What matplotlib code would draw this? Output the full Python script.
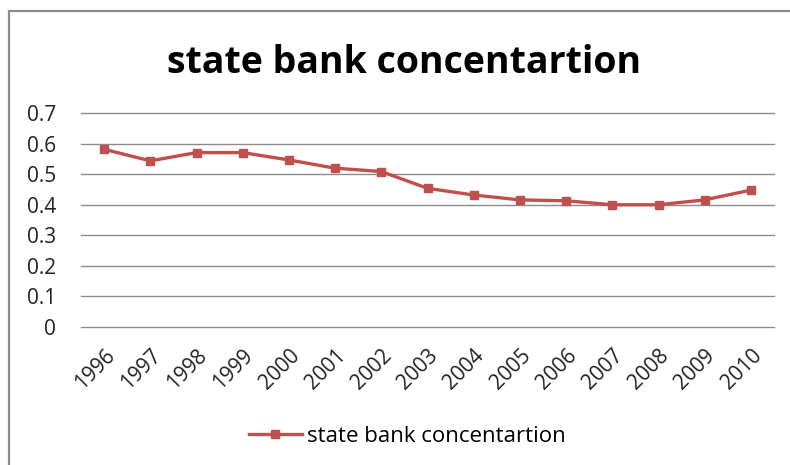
import matplotlib
matplotlib.use("Agg")
import matplotlib.pyplot as plt
from matplotlib.patches import Rectangle

# data
years = ["1996", "1997", "1998", "1999", "2000", "2001", "2002", "2003",
         "2004", "2005", "2006", "2007", "2008", "2009", "2010"]
concentration = [0.582, 0.544, 0.571, 0.571, 0.547, 0.520, 0.509, 0.454,
                 0.432, 0.416, 0.413, 0.400, 0.400, 0.416, 0.448]
y_ticks = [0, 0.1, 0.2, 0.3, 0.4, 0.5, 0.6, 0.7]
series_name = "state bank concentartion"

plt.rcParams['font.family'] = ['Open Sans', 'DejaVu Sans']

fig = plt.figure(figsize=(7.9, 4.65), dpi=100)
ax = fig.add_axes([81 / 790, 1 - 326.7 / 465, (774 - 81) / 790, 213.4 / 465])

# outer chart frame (only top and left edges are visible in the reference)
fig.patches.append(Rectangle((8.5 / 790, -0.1), 1.2, 1.1 - 11 / 465,
                             transform=fig.transFigure, fill=False,
                             edgecolor='#8c8c8c', linewidth=1.6))

x = list(range(len(years)))
ax.plot(x, concentration, color='#C0504D', linewidth=2.4, marker='s',
        markersize=6, label=series_name)

ax.set_xlim(-0.5, len(years) - 0.5)
ax.set_ylim(0, 0.7)
ax.set_yticks(y_ticks)
ax.set_yticklabels(["0" if v == 0 else f"{v:.1f}" for v in y_ticks])
ax.set_xticks(x)
ax.set_xticklabels(years, rotation=45, ha='right', rotation_mode='anchor')

ax.grid(axis='y', color='#8c8c8c', linewidth=1)
ax.set_axisbelow(True)
# keep the 0 and 0.7 gridlines from being half clipped
for gl in ax.get_ygridlines():
    gl.set_clip_on(False)
for side in ['top', 'right', 'left', 'bottom']:
    ax.spines[side].set_visible(False)
ax.tick_params(axis='both', length=0, labelsize=15, colors='#222222')
ax.tick_params(axis='y', pad=18)
ax.tick_params(axis='x', pad=13)

fig.text(404 / 790, 1 - 73 / 465, "state bank concentartion", ha='center',
         va='baseline', fontsize=27, fontweight='bold', color='black')

fig.legend(loc='center', bbox_to_anchor=(407 / 790, 1 - 436 / 465),
           frameon=False, fontsize=16, handlelength=2.4, handletextpad=0.2)

fig.savefig("out.png", dpi=100)
